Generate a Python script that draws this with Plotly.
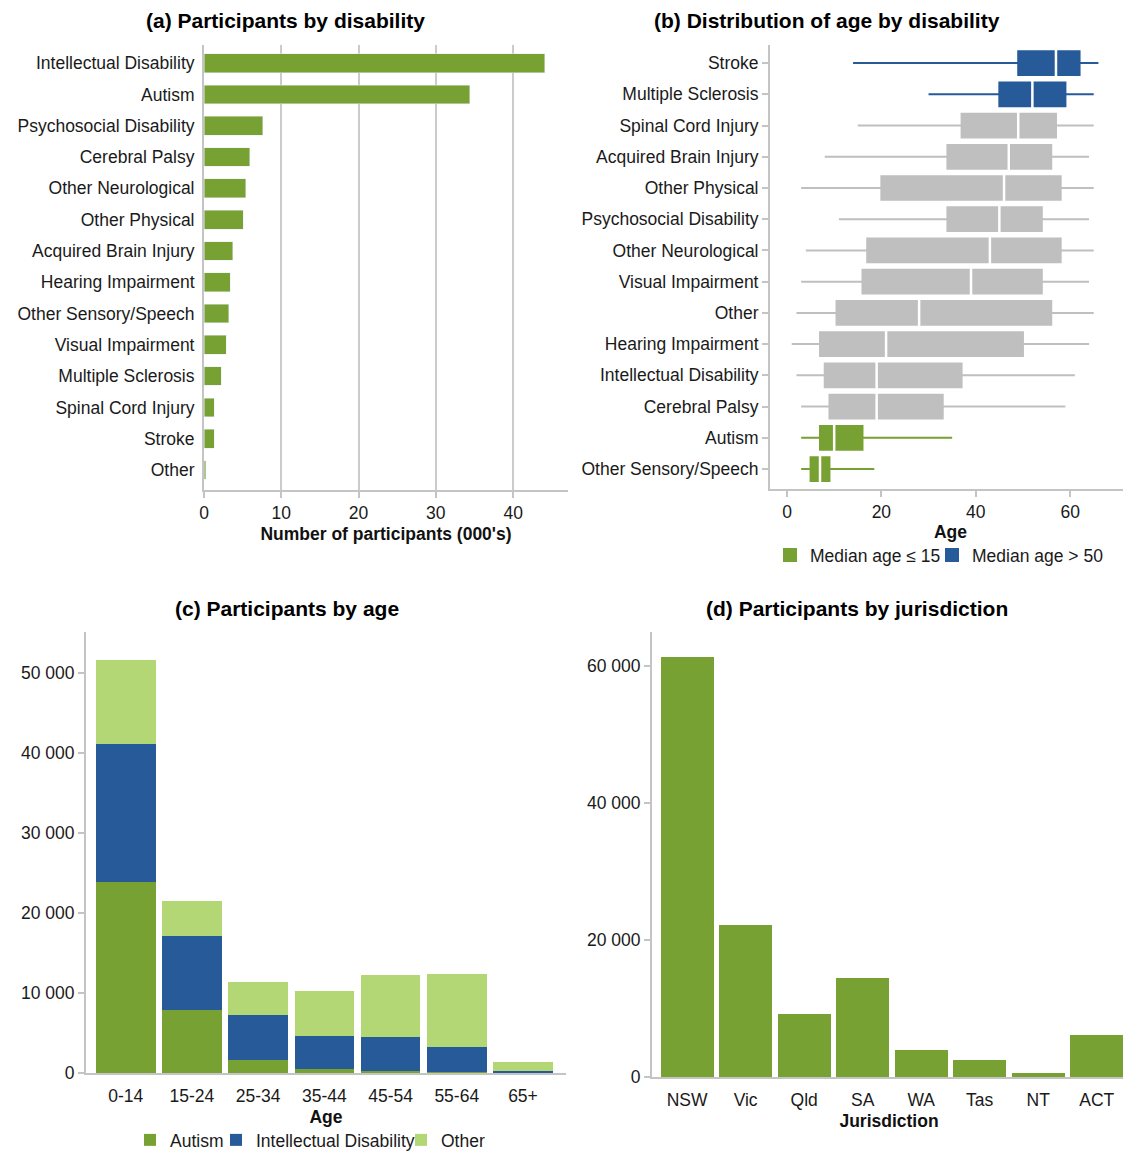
import plotly.graph_objects as go

# (a) participants by disability, thousands
disabilities = ["Intellectual Disability", "Autism", "Psychosocial Disability", "Cerebral Palsy",
                "Other Neurological", "Other Physical", "Acquired Brain Injury", "Hearing Impairment",
                "Other Sensory/Speech", "Visual Impairment", "Multiple Sclerosis", "Spinal Cord Injury",
                "Stroke", "Other"]
participants_000s = [44.1, 34.4, 7.6, 5.9, 5.4, 5.1, 3.7, 3.4, 3.2, 2.9, 2.2, 1.3, 1.3, 0.25]

# (b) age distribution by disability (box summaries)
box_disabilities = ["Stroke", "Multiple Sclerosis", "Spinal Cord Injury", "Acquired Brain Injury",
                    "Other Physical", "Psychosocial Disability", "Other Neurological", "Visual Impairment",
                    "Other", "Hearing Impairment", "Intellectual Disability", "Cerebral Palsy",
                    "Autism", "Other Sensory/Speech"]
age_low = [14, 30, 15, 8, 3, 11, 4, 3, 2, 1, 2, 3, 3, 3]
age_q1 = [49, 45, 37, 34, 20, 34, 17, 16, 10.5, 7, 8, 9, 7, 5]
age_median = [57, 52, 49, 47, 46, 45, 43, 39, 28, 21, 19, 19, 10, 7]
age_q3 = [62, 59, 57, 56, 58, 54, 58, 54, 56, 50, 37, 33, 16, 9]
age_high = [66, 65, 65, 64, 65, 64, 65, 64, 65, 64, 61, 59, 35, 18.5]

# (c) participants by age group
age_groups = ["0-14", "15-24", "25-34", "35-44", "45-54", "55-64", "65+"]
autism_by_age = [23900, 7830, 1580, 460, 210, 80, 40]
intellectual_by_age = [17200, 9250, 5630, 4120, 4250, 3130, 170]
other_by_age = [10450, 4380, 4120, 5630, 7750, 9120, 1120]

# (d) participants by jurisdiction
jurisdictions = ["NSW", "Vic", "Qld", "SA", "WA", "Tas", "NT", "ACT"]
jurisdiction_participants = [61400, 22200, 9150, 14500, 4000, 2550, 520, 6200]

GREEN = "#78a133"
BLUE = "#275a98"
LIGHT_GREEN = "#b3d774"
GREY = "#bfbfbf"
AXIS = "#c4c4c4"
FONT = "Liberation Sans, Arial, sans-serif"

# page body keeps its default 8px margin, so the figure is drawn 8px in
OFF = 8
W, H = 1131 - OFF, 1151 - OFF


def px_x(p):
    return (p - OFF) / W


def px_y(p):
    return 1 - (p - OFF) / H


fig = go.Figure()

# (a)
fig.add_trace(go.Bar(x=participants_000s, y=disabilities, orientation="h", width=0.6,
                     marker=dict(color=GREEN), showlegend=False, xaxis="x", yaxis="y"))

# (b) split boxes into groups by median age
groups = {"grey": ([], None, None), "young": ([], "Median age ≤ 15", "legend2"),
          "old": ([], "Median age > 50", "legend3")}
for i, m in enumerate(age_median):
    key = "young" if m <= 15 else ("old" if m > 50 else "grey")
    groups[key][0].append(i)
colors = {"grey": GREY, "young": GREEN, "old": BLUE}
for key in ["grey", "young", "old"]:
    idx, name, leg = groups[key]
    fig.add_trace(go.Box(
        y=[box_disabilities[i] for i in idx],
        q1=[age_q1[i] for i in idx], median=[age_median[i] for i in idx],
        q3=[age_q3[i] for i in idx], lowerfence=[age_low[i] for i in idx],
        upperfence=[age_high[i] for i in idx],
        orientation="h", width=0.76, whiskerwidth=0, boxpoints=False,
        fillcolor=colors[key], line=dict(color=colors[key], width=2),
        name=name if name else "", showlegend=name is not None,
        legend=leg if leg else "legend", xaxis="x2", yaxis="y2"))
fig.add_trace(go.Scatter(x=age_median, y=box_disabilities, mode="markers",
                         marker=dict(symbol="line-ns", size=23, line=dict(color="white", width=2.5)),
                         showlegend=False, hoverinfo="skip", xaxis="x2", yaxis="y2"))

# (c)
for vals, name, col, leg in [(autism_by_age, "Autism", GREEN, "legend"),
                             (intellectual_by_age, "Intellectual Disability", BLUE, "legend4"),
                             (other_by_age, "Other", LIGHT_GREEN, "legend5")]:
    fig.add_trace(go.Bar(x=age_groups, y=vals, name=name, width=0.9, legend=leg,
                         marker=dict(color=col, line=dict(width=0)), xaxis="x3", yaxis="y3"))

# (d)
fig.add_trace(go.Bar(x=jurisdictions, y=jurisdiction_participants, width=0.905,
                     marker=dict(color=GREEN, line=dict(width=0)), showlegend=False,
                     xaxis="x4", yaxis="y4"))

tickfont = dict(family=FONT, size=17.5, color="#1a1a1a")
titlefont = dict(family=FONT, size=17.5, color="#111111")
legfont = dict(family=FONT, size=17.5, color="#1a1a1a")


def axis_common():
    return dict(showline=True, linecolor=AXIS, linewidth=2, zeroline=False, automargin=False,
                tickfont=tickfont, ticks="outside", tickcolor=AXIS, ticklen=6, tickwidth=1.5)


def legend_at(text_left, text_mid_y):
    # plotly puts the label ~40px right of / ~18px below the legend's top-left corner
    return dict(orientation="h", x=px_x(text_left - 40), xanchor="left",
                y=px_y(text_mid_y - 18), yanchor="top", font=legfont, itemwidth=30,
                bgcolor="rgba(0,0,0,0)")


fig.update_layout(
    width=W, height=H, margin=dict(l=0, r=0, t=0, b=0, autoexpand=False),
    paper_bgcolor="white", plot_bgcolor="white",
    font=dict(family=FONT, size=17.5, color="#1a1a1a"),
    separators=". ", barmode="stack",
    xaxis=dict(**axis_common(), domain=[px_x(204), px_x(568)], anchor="y", range=[0, 47.1],
               dtick=10, showgrid=True, gridcolor="#cbcbcb", gridwidth=2,
               title=dict(text="<b>Number of participants (000's)</b>", font=titlefont, standoff=6)),
    yaxis=dict(**axis_common(), domain=[px_y(490), px_y(45)], anchor="x", type="category",
               categoryorder="array", categoryarray=disabilities, range=[13.64, -0.58],
               showgrid=False),
    xaxis2=dict(**axis_common(), domain=[px_x(770), px_x(1131)], anchor="y2", range=[-3.6, 72.9],
                dtick=20, tick0=0, showgrid=False,
                title=dict(text="<b>Age</b>", font=titlefont, standoff=5)),
    yaxis2=dict(**axis_common(), domain=[px_y(489), px_y(45)], anchor="x2", type="category",
                categoryorder="array", categoryarray=box_disabilities, range=[13.64, -0.58],
                showgrid=False),
    xaxis3=dict(**axis_common(), domain=[px_x(86), px_x(566)], anchor="y3", type="category",
                range=[-0.6, 6.65], showgrid=False,
                title=dict(text="<b>Age</b>", font=titlefont, standoff=6)),
    yaxis3=dict(**axis_common(), domain=[px_y(1073), px_y(632)], anchor="x3", range=[0, 55100],
                dtick=10000, tickformat=",d", showgrid=False),
    xaxis4=dict(**axis_common(), domain=[px_x(652), px_x(1126)], anchor="y4", type="category",
                range=[-0.6, 7.5], showgrid=False,
                title=dict(text="<b>Jurisdiction</b>", font=titlefont, standoff=6)),
    yaxis4=dict(**axis_common(), domain=[px_y(1077), px_y(632)], anchor="x4", range=[0, 65000],
                dtick=20000, tickformat=",d", showgrid=False),
    legend=legend_at(170, 1140),
    legend4=legend_at(256, 1140),
    legend5=legend_at(441, 1140),
    legend2=legend_at(810, 555),
    legend3=legend_at(972, 555),
)
# hidden ticks keep label spacing: none drawn on (c)/(d) x or (a) y
fig.update_layout(xaxis3_tickcolor="rgba(0,0,0,0)", xaxis4_tickcolor="rgba(0,0,0,0)",
                  yaxis_tickcolor="rgba(0,0,0,0)", yaxis_ticklen=4)

titles = [("(a) Participants by disability", 285, 20),
          ("(b) Distribution of age by disability", 827, 20),
          ("(c) Participants by age", 287, 608),
          ("(d) Participants by jurisdiction", 857, 608)]
for text, cx, cy in titles:
    fig.add_annotation(text=f"<b>{text}</b>", x=px_x(cx), y=px_y(cy), xref="paper", yref="paper",
                       showarrow=False, xanchor="center", yanchor="middle",
                       font=dict(family=FONT, size=21, color="black"))

fig.write_html("out.html")
